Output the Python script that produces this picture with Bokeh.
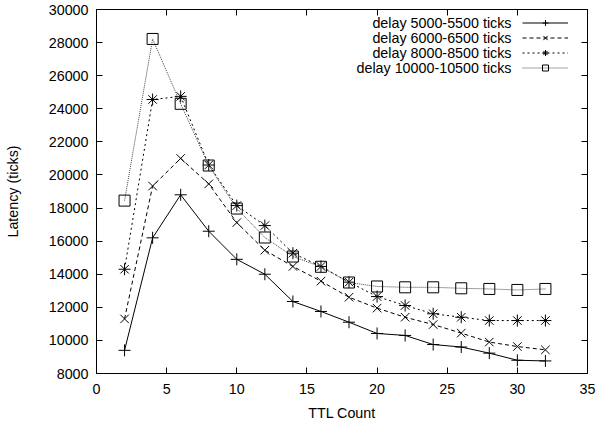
from bokeh.plotting import figure
from bokeh.models import (Range1d, SingleIntervalTicker, LinearAxis, Legend, LegendItem, Label,
                          CustomJSTickFormatter)
from bokeh.embed import file_html
from bokeh.resources import INLINE

ttl = [2, 4, 6, 8, 10, 12, 14, 16, 18, 20, 22, 24, 26, 28, 30, 32]
delay_5000 = [9400, 16200, 18800, 16600, 14900, 14000, 12350, 11750, 11100, 10420, 10300, 9750, 9600, 9230, 8800, 8760]
delay_6000 = [11300, 19330, 21000, 19460, 17120, 15450, 14470, 13580, 12610, 11950, 11400, 10960, 10440, 9900, 9630, 9430]
delay_8000 = [14300, 24560, 24750, 20600, 18150, 16940, 15270, 14470, 13520, 12650, 12110, 11610, 11400, 11200, 11200, 11200]
delay_10000 = [18450, 28220, 24300, 20570, 17970, 16220, 15070, 14450, 13500, 13260, 13210, 13210, 13150, 13110, 13050, 13110]
labels = ["delay 5000-5500 ticks", "delay 6000-6500 ticks", "delay 8000-8500 ticks", "delay 10000-10500 ticks"]

FONT = "Liberation Sans"
FS = "14.3px"

p = figure(width=597, height=423, output_backend="svg", toolbar_location=None,
           x_range=Range1d(0, 35), y_range=Range1d(8000, 30000),
           min_border_left=96, min_border_right=10, min_border_top=9, min_border_bottom=50)
p.background_fill_color = "white"
p.border_fill_color = "white"
p.outline_line_color = "black"
p.outline_line_width = 1
p.xgrid.visible = False
p.ygrid.visible = False

p.xaxis.ticker = SingleIntervalTicker(interval=5)
p.yaxis.ticker = SingleIntervalTicker(interval=2000)
for ax in (p.xaxis[0], p.yaxis[0]):
    ax.major_tick_in = 6
    ax.major_tick_out = 0
    ax.minor_tick_in = 0
    ax.minor_tick_out = 0
    ax.axis_line_color = "black"
    ax.major_tick_line_color = "black"
    ax.major_label_text_font = FONT
    ax.major_label_text_font_size = FS
    ax.major_label_text_color = "black"
    ax.axis_label_text_font = FONT
    ax.axis_label_text_font_size = FS
    ax.axis_label_text_font_style = "normal"
    ax.axis_label_text_color = "black"
p.xaxis.axis_label = "TTL Count"
p.yaxis.axis_label = "Latency (ticks)"
p.xaxis.major_label_standoff = 10
p.xaxis.axis_label_standoff = 8
p.yaxis.major_label_standoff = 8
p.yaxis.axis_label_standoff = 25

top = LinearAxis(ticker=SingleIntervalTicker(interval=5))
right = LinearAxis(ticker=SingleIntervalTicker(interval=2000))
for ax in (top, right):
    ax.major_tick_in = 6
    ax.major_tick_out = 0
    ax.minor_tick_in = 0
    ax.minor_tick_out = 0
    ax.formatter = CustomJSTickFormatter(code="return '';")
    ax.major_label_standoff = 0
    ax.axis_line_color = "black"
p.add_layout(top, "above")
p.add_layout(right, "right")

series = [delay_5000, delay_6000, delay_8000, delay_10000]
dashes = ["solid", "4 3", "2 3", "1 1"]
colors = ["black", "black", "black", "#444444"]
markers = ["cross", "x", "asterisk", "square"]
sizes = [12, 12, 12, 11]

items = []
for ys, dash, col, mk, sz in zip(series, dashes, colors, markers, sizes):
    l = p.line(ttl, ys, line_color=col, line_dash=dash, line_width=1)
    s = p.scatter(ttl, ys, marker=mk, size=sz, line_color="black", fill_color=None, line_width=1)
    items.append(LegendItem(label="", renderers=[l, s]))

legend = Legend(items=items, location=(426, 298), glyph_width=46, glyph_height=15,
                label_width=0, label_standoff=0, padding=0, spacing=0, margin=0,
                border_line_color=None, background_fill_alpha=0)
p.add_layout(legend, "center")

for i, t in enumerate(labels):
    p.add_layout(Label(x=415, y=351 - 15 * i, x_units="screen", y_units="screen", text=t,
                       text_align="right", text_baseline="middle", text_font=FONT,
                       text_font_size=FS, text_color="black"))

open("out.html", "w").write(file_html(p, INLINE))
